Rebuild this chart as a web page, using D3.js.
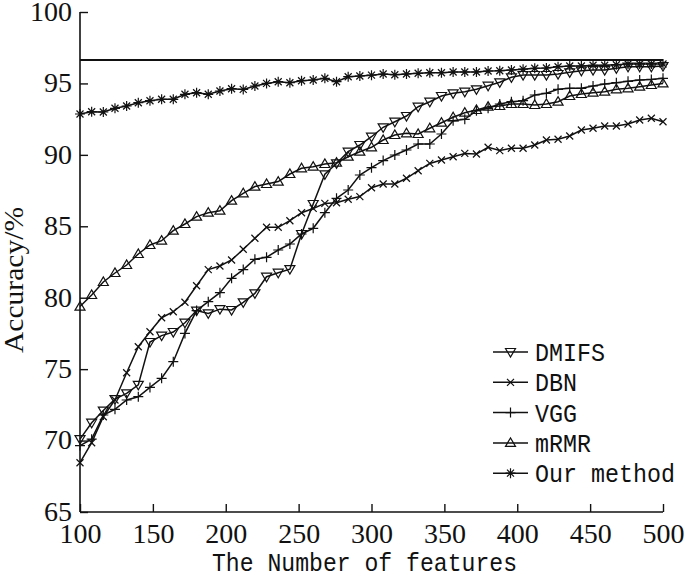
<!DOCTYPE html>
<html>
<head>
<meta charset="utf-8">
<script src="https://cdn.jsdelivr.net/npm/d3@7"></script>
<style>
  body { margin: 0; background: #fff; }
  svg { display: block; }
  .mono { font-family: "Liberation Mono", "DejaVu Sans Mono", monospace; fill: #111; }
</style>
</head>
<body>
<div id="chart"></div>
<script>
// number of features (x)
var features = [100, 108, 116, 124, 132, 140, 148, 156, 164, 172,
  180, 188, 196, 204, 212, 220, 228, 236, 244, 252,
  260, 268, 276, 284, 292, 300, 308, 316, 324, 332,
  340, 348, 356, 364, 372, 380, 388, 396, 404, 412,
  420, 428, 436, 444, 452, 460, 468, 476, 484, 492, 500];

var dmifs = [70.1, 71.25, 72.1, 72.9, 73.3, 73.9, 76.9, 77.35, 77.6, 78.25,
  79.1, 78.9, 79.2, 79.14, 79.68, 80.3, 81.47, 81.75, 82.0, 84.46,
  86.56, 88.64, 89.4, 90.22, 90.69, 91.27, 91.93, 92.32, 92.72, 93.37,
  93.72, 94.12, 94.31, 94.42, 94.59, 94.84, 95.08, 95.43, 95.59, 95.59,
  95.59, 95.66, 95.78, 95.89, 95.94, 95.94, 96.06, 96.17, 96.17, 96.17, 96.22];

var dbn = [68.45, 69.85, 71.67, 72.84, 74.75, 76.57, 77.62, 78.6, 79.02, 79.68,
  80.84, 81.97, 82.22, 82.64, 83.39, 84.16, 84.93, 84.93, 85.39, 85.95,
  86.25, 86.6, 86.65, 86.89, 87.08, 87.7, 87.96, 87.96, 88.36, 88.89,
  89.4, 89.64, 89.87, 90.1, 90.06, 90.53, 90.3, 90.46, 90.46, 90.69,
  91.04, 91.09, 91.32, 91.74, 91.86, 92.02, 92.02, 92.16, 92.44, 92.56, 92.32];

var vgg = [69.65, 70.1, 71.79, 72.19, 72.84, 73.07, 73.72, 74.36, 75.52, 77.5,
  79.1, 79.72, 80.35, 81.36, 81.97, 82.69, 82.83, 83.34, 83.76, 84.46,
  84.86, 85.95, 86.96, 87.54, 88.59, 89.1, 89.6, 89.99, 90.34, 90.76,
  90.76, 91.46, 92.39, 92.49, 93.09, 93.26, 93.56, 93.72, 93.79, 94.19,
  94.31, 94.59, 94.66, 94.66, 94.82, 94.96, 95.05, 95.15, 95.24, 95.28, 95.36];

var mrmr = [79.38, 80.19, 81.1, 81.73, 82.29, 83.06, 83.69, 83.99, 84.69, 85.16,
  85.68, 85.95, 86.09, 86.79, 87.31, 87.78, 87.96, 88.13, 88.66, 89.06,
  89.17, 89.36, 89.45, 89.87, 90.22, 90.53, 91.04, 91.39, 91.51, 91.46,
  91.86, 92.25, 92.63, 92.95, 93.14, 93.37, 93.42, 93.56, 93.56, 93.49,
  93.56, 93.72, 94.12, 94.26, 94.35, 94.42, 94.59, 94.66, 94.77, 94.89, 95.0];

var ourMethod = [92.86, 93.02, 93.0, 93.26, 93.42, 93.65, 93.79, 93.89, 93.89, 94.24,
  94.35, 94.24, 94.47, 94.63, 94.58, 94.82, 95.0, 95.12, 95.05, 95.19,
  95.24, 95.36, 95.12, 95.47, 95.52, 95.58, 95.66, 95.61, 95.66, 95.71,
  95.75, 95.75, 95.8, 95.8, 95.8, 95.87, 95.89, 95.94, 96.0, 96.06,
  96.08, 96.17, 96.22, 96.22, 96.27, 96.27, 96.31, 96.36, 96.36, 96.36, 96.36];

var refLevel = 96.64;

var seriesNames = ["DMIFS", "DBN", "VGG", "mRMR", "Our method"];
var seriesValues = [dmifs, dbn, vgg, mrmr, ourMethod];
var seriesMarkers = ["tridown", "cross", "plus", "triup", "star"];

var xTicks = [100, 150, 200, 250, 300, 350, 400, 450, 500];
var yTicks = [65, 70, 75, 80, 85, 90, 95, 100];

var width = 685, height = 578;
var ink = "#111";
var serif = "'Liberation Serif', 'Times New Roman', serif";

var svg = d3.select("#chart").append("svg")
  .attr("width", width)
  .attr("height", height);

var x = d3.scaleLinear().domain([100, 500]).range([80, 663]);
var y = d3.scaleLinear().domain([65, 100]).range([512, 12]);

// marker shapes
function markerPath(type) {
  switch (type) {
    case "tridown": return "M-5,-3.5L5,-3.5L0,5Z";
    case "triup": return "M-5,3.5L5,3.5L0,-5Z";
    case "cross": return "M-3.5,-3.5L3.5,3.5M-3.5,3.5L3.5,-3.5";
    case "plus": return "M-5,0L5,0M0,-5L0,5";
    case "star": return "M-5,0L5,0M0,-5L0,5M-3.5,-3.5L3.5,3.5M-3.5,3.5L3.5,-3.5";
  }
}

// axes (ticks point inward)
var xAxis = d3.axisBottom(x).tickValues(xTicks).tickSize(-8).tickPadding(10).tickFormat(d3.format("d"));
var yAxis = d3.axisLeft(y).tickValues(yTicks).tickSize(-8).tickPadding(8).tickFormat(d3.format("d"));

var gx = svg.append("g").attr("transform", "translate(0,512)").call(xAxis);
var gy = svg.append("g").attr("transform", "translate(80,0)").call(yAxis);

[gx, gy].forEach(function(g) {
  g.attr("font-family", serif).attr("font-size", 28);
  g.select(".domain").attr("stroke", ink).attr("stroke-width", 1.6);
  g.selectAll(".tick line").attr("stroke", ink).attr("stroke-width", 1.4);
  g.selectAll(".tick text").attr("fill", ink);
});
gx.select(".domain").attr("d", "M80,0H663");
gx.selectAll(".tick text").attr("dy", null).attr("y", 31);
gy.select(".domain").attr("d", "M0,12V512");
gy.selectAll(".tick text").attr("dy", ".3em");

// reference line
svg.append("line")
  .attr("x1", x(100)).attr("x2", x(500))
  .attr("y1", y(refLevel)).attr("y2", y(refLevel))
  .attr("stroke", ink).attr("stroke-width", 1.8);

var line = d3.line()
  .x(function(d, i) { return x(features[i]); })
  .y(function(d) { return y(d); });

seriesValues.forEach(function(vals, s) {
  var g = svg.append("g");
  g.append("path")
    .attr("d", line(vals))
    .attr("fill", "none")
    .attr("stroke", ink)
    .attr("stroke-width", 1.5);
  g.selectAll("path.m")
    .data(vals)
    .enter().append("path")
    .attr("class", "m")
    .attr("transform", function(d, i) { return "translate(" + x(features[i]) + "," + y(d) + ")"; })
    .attr("d", markerPath(seriesMarkers[s]))
    .attr("fill", "none")
    .attr("stroke", ink)
    .attr("stroke-width", 1.2);
});

// legend
var legend = svg.append("g").attr("transform", "translate(493,352)");
seriesNames.forEach(function(name, i) {
  var row = legend.append("g").attr("transform", "translate(0," + (i * 30.3) + ")");
  row.append("line").attr("x1", 0).attr("x2", 35).attr("y1", 0).attr("y2", 0)
    .attr("stroke", ink).attr("stroke-width", 1.5);
  row.append("path").attr("transform", "translate(17.5,0)")
    .attr("d", markerPath(seriesMarkers[i]))
    .attr("fill", "none").attr("stroke", ink).attr("stroke-width", 1.2);
  row.append("text").attr("class", "mono")
    .attr("x", 42).attr("y", 9)
    .style("font-size", "26px")
    .attr("textLength", name.length * 14)
    .attr("lengthAdjust", "spacingAndGlyphs")
    .text(name);
});

// axis titles
svg.append("text").attr("class", "mono")
  .attr("x", 212).attr("y", 571)
  .style("font-size", "25px")
  .attr("textLength", 305)
  .attr("lengthAdjust", "spacingAndGlyphs")
  .text("The Number of features");

svg.append("text")
  .attr("transform", "translate(23,353) rotate(-90)")
  .style("font-family", serif)
  .style("font-size", "27px")
  .attr("fill", ink)
  .attr("textLength", 146)
  .attr("lengthAdjust", "spacingAndGlyphs")
  .text("Accuracy/%");
</script>
</body>
</html>
